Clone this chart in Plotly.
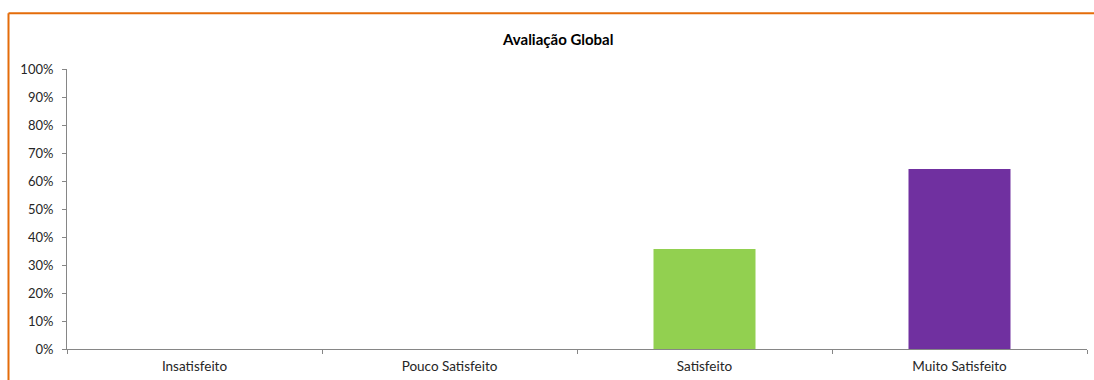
import plotly.graph_objects as go

categories = ["Insatisfeito", "Pouco Satisfeito", "Satisfeito", "Muito Satisfeito"]
values = [0.0, 0.0, 0.357, 0.643]
colors = ["#4F81BD", "#F79646", "#92D050", "#7030A0"]
title_text = "Avaliação Global"

W, H = 1094, 380
L, R, T, B = 67, 7, 68.5, 30.5

fig = go.Figure()
fig.add_trace(go.Bar(
    x=categories, y=values, marker=dict(color=colors, line=dict(width=0)),
    width=0.4, hoverinfo="x+y",
))

font_family = "Lato, 'Open Sans', sans-serif"
fig.update_layout(
    width=W, height=H,
    margin=dict(l=L, r=R, t=T, b=B, pad=0),
    paper_bgcolor="white", plot_bgcolor="white",
    showlegend=False,
    font=dict(family=font_family, size=13, color="#262626"),
    bargap=0.6,
)
fig.update_xaxes(
    type="category", range=[-0.5, 3.5],
    showline=True, linecolor="#868686", linewidth=1,
    ticks="outside", ticklen=4, tickcolor="#868686", tickson="boundaries",
    showgrid=False, zeroline=False, ticklabelstandoff=5,
    tickfont=dict(size=13.5, family=font_family, color="#262626"),
)
fig.update_yaxes(
    range=[0, 1], dtick=0.1, tickformat=".0%",
    showline=True, linecolor="#868686", linewidth=1,
    ticks="outside", ticklen=4, tickcolor="#868686",
    showgrid=False, zeroline=False, ticklabelstandoff=6,
    tickfont=dict(size=13, family=font_family, color="#262626"),
)
fig.add_annotation(
    text="<b>" + title_text + "</b>", xref="paper", yref="paper",
    x=(557 - L) / (W - L - R), y=1, yshift=(T - 38), showarrow=False,
    xanchor="center", yanchor="middle",
    font=dict(size=15, family=font_family, color="#000000"),
)
# orange chart border (top and left visible)
pw = W - L - R
ph = H - T - B
bx0 = (8.5 - L) / pw
by1 = 1 + (T - 12.5) / ph
fig.add_shape(type="line", xref="paper", yref="paper", x0=bx0, x1=(W + 5 - L) / pw,
              y0=by1, y1=by1, line=dict(color="#E46C0A", width=2))
fig.add_shape(type="line", xref="paper", yref="paper", x0=bx0, x1=bx0,
              y0=by1, y1=-(B + 5) / ph, line=dict(color="#E46C0A", width=2))

fig.write_html("out.html")
